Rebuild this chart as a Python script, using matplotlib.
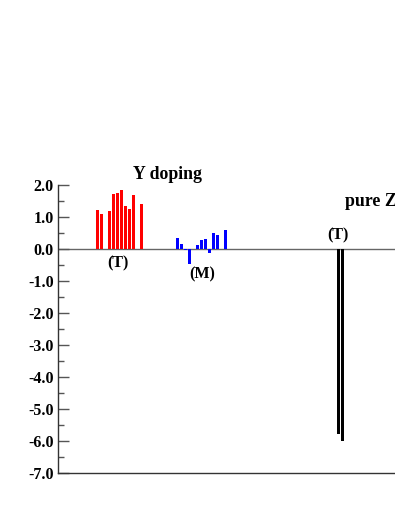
import matplotlib
matplotlib.use("Agg")
import matplotlib.pyplot as plt
from matplotlib.ticker import MultipleLocator

# data (site positions / values)
red_x = [10, 11, 13, 14, 15, 16, 17, 18, 19, 21]
red_y = [1.20, 1.09, 1.17, 1.70, 1.73, 1.84, 1.32, 1.24, 1.69, 1.40]
blue_x = [30, 31, 32, 33, 35, 36, 37, 38, 39, 40, 42]
blue_y = [0.34, 0.14, -0.04, -0.47, 0.13, 0.28, 0.29, -0.14, 0.49, 0.42, 0.58]
black_x = [70.25, 71.25]
black_y = [-5.80, -6.02]
yticks = [2, 1, 0, -1, -2, -3, -4, -5, -6, -7]

plt.rcParams["font.family"] = "Liberation Serif"
plt.rcParams["font.weight"] = "bold"

fig = plt.figure(figsize=(3.95, 5.11), dpi=100)
ax = fig.add_axes([58 / 395, 1 - 472.7 / 511, 400 / 395, (472.7 - 184.7) / 511])

ax.bar(red_x, red_y, width=0.75, color="#ff0000", edgecolor="none")
ax.bar(blue_x, blue_y, width=0.65, color="#0000ff", edgecolor="none")
ax.bar(black_x, black_y, width=0.75, color="black", edgecolor="none")
ax.axhline(0, color="#666666", lw=1.0, zorder=0)

ax.set_xlim(0.125, 100.125)
ax.set_ylim(-7, 2)
ax.set_yticks(yticks)
ax.set_yticklabels(["%.1f" % v for v in yticks], fontsize=11.5, fontweight="bold")
ax.yaxis.set_minor_locator(MultipleLocator(0.5))
ax.tick_params(axis="y", which="major", direction="in", length=8, width=1, color="#555555", pad=3)
ax.tick_params(axis="y", which="minor", direction="in", length=4, width=1, color="#555555")
ax.set_xticks([])
for s in ["top", "right"]:
    ax.spines[s].set_visible(False)
for s in ["left", "bottom"]:
    ax.spines[s].set_color("#333333")
    ax.spines[s].set_linewidth(1.0)

ax.text(27.6, 2.33, "Y doping", ha="center", va="center", fontsize=12.8, fontweight="bold")
ax.text(15.0, -0.45, "(T)", ha="center", va="center", fontsize=11.5, fontweight="bold")
ax.text(36.1, -0.79, "(M)", ha="center", va="center", fontsize=11.5, fontweight="bold")
ax.text(70.0, 0.43, "(T)", ha="center", va="center", fontsize=11.5, fontweight="bold")
ax.text(71.9, 1.46, "pure Z", ha="left", va="center", fontsize=12.8, fontweight="bold")

fig.savefig("out.png", dpi=100)
